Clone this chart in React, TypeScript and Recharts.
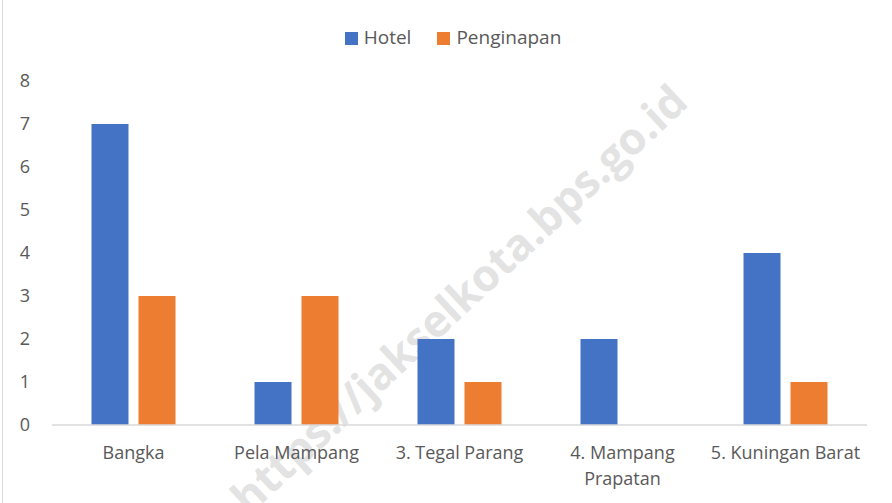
import React from "react";
import { BarChart, Bar, XAxis, YAxis, Legend, Text } from "recharts";

const categories = ["Bangka", "Pela Mampang", "3. Tegal Parang", "4. Mampang Prapatan", "5. Kuningan Barat"];
const hotel = [7, 1, 2, 2, 4];
const penginapan = [3, 3, 1, 0, 1];
const yTicks = [0, 1, 2, 3, 4, 5, 6, 7, 8];
const watermark = "https://jakselkota.bps.go.id";

const data = categories.map((name, i) => ({ name, Hotel: hotel[i], Penginapan: penginapan[i] }));

const FONT = "'Open Sans', 'Noto Sans', sans-serif";
const GRAY = "#595959";

const XTick = (props: any) => {
  const { x, y, payload } = props;
  return (
    <Text
      x={x}
      y={y}
      width={160}
      textAnchor="middle"
      verticalAnchor="start"
      lineHeight="1.45em"
      fill={GRAY}
      style={{ fontSize: 18, fontFamily: FONT }}
    >
      {payload.value}
    </Text>
  );
};

export default function App() {
  return (
    <div style={{ position: "absolute", left: 0, top: 0, width: 892, height: 503, background: "#fff", overflow: "hidden" }}>
      <div style={{ position: "absolute", left: 2, top: 0, width: 1, height: 503, background: "#d9d9d9" }} />
      <div
        style={{
          position: "absolute",
          left: 458,
          top: 298,
          transform: "translate(-50%, -50%) rotate(-43deg)",
          whiteSpace: "nowrap",
          fontFamily: FONT,
          fontWeight: 700,
          fontSize: 44,
          color: "#e3e3e3",
        }}
      >
        {watermark}
      </div>
      <div style={{ position: "absolute", left: 0, top: 0 }}>
        <BarChart
          width={892}
          height={503}
          data={data}
          margin={{ top: 81, right: 25, bottom: 48, left: 0 }}
          barCategoryGap={39.5}
          barGap={10}
        >
          <Legend
            verticalAlign="middle"
            layout="horizontal"
            align="center"
            iconType="square"
            iconSize={13}
            wrapperStyle={{ top: 24, left: 20, width: 892, fontFamily: FONT, fontSize: 19 }}
            formatter={(value: string) => <span style={{ color: GRAY, marginLeft: 2, marginRight: 16 }}>{value}</span>}
          />
          <XAxis
            dataKey="name"
            height={30}
            axisLine={{ stroke: "#d9d9d9", strokeWidth: 1.5 }}
            tickLine={false}
            tickSize={0}
            tickMargin={21}
            interval={0}
            tick={<XTick />}
          />
          <YAxis
            domain={[0, 8]}
            ticks={yTicks}
            width={52}
            axisLine={false}
            tickLine={false}
            tickSize={0}
            tickMargin={22}
            tick={{ fill: GRAY, fontSize: 18, fontFamily: FONT }}
          />
          <Bar dataKey="Hotel" fill="#4472C4" isAnimationActive={false} />
          <Bar dataKey="Penginapan" fill="#ED7D31" isAnimationActive={false} />
        </BarChart>
      </div>
    </div>
  );
}
